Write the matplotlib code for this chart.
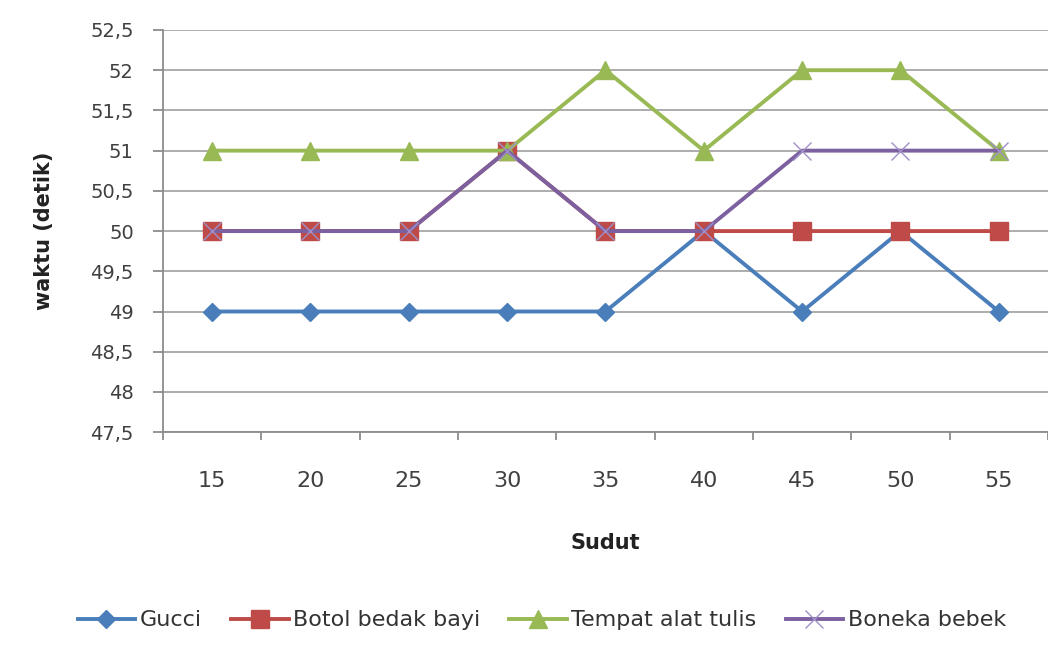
import matplotlib
matplotlib.use("Agg")
import matplotlib.pyplot as plt
from matplotlib.ticker import MultipleLocator, FixedLocator, FuncFormatter

plt.rcParams['font.family'] = ['DejaVu Sans']

sudut = ["15", "20", "25", "30", "35", "40", "45", "50", "55"]
gucci = [49, 49, 49, 49, 49, 50, 49, 50, 49]
botol = [50, 50, 50, 51, 50, 50, 50, 50, 50]
tempat = [51, 51, 51, 51, 52, 51, 52, 52, 51]
boneka = [50, 50, 50, 51, 50, 50, 51, 51, 51]

fig = plt.figure(figsize=(10.48, 6.45), dpi=100)
ax = fig.add_axes([0.1555, 0.330, 0.8445, 0.6235])

x = list(range(len(sudut)))
lw = 2.8
ax.plot(x, gucci, color='#4A7EBB', lw=lw, marker='D', ms=9,
        mec='#4A7EBB', label='Gucci', zorder=3)
ax.plot(x, botol, color='#BE4B48', lw=lw, marker='s', ms=13,
        mec='#BE4B48', label='Botol bedak bayi', zorder=4)
ax.plot(x, tempat, color='#98B954', lw=lw, marker='^', ms=13,
        mec='#98B954', label='Tempat alat tulis', zorder=5)
ax.plot(x, boneka, color='#7D60A0', lw=lw, marker='x', ms=13, mew=1.0,
        mec='#A090C8', label='Boneka bebek', zorder=6)

ax.set_xlim(-0.5, len(sudut) - 0.5)
ax.set_ylim(47.5, 52.5)
ax.yaxis.set_major_locator(MultipleLocator(0.5))
ax.yaxis.set_major_formatter(FuncFormatter(lambda v, p: (f"{v:g}").replace('.', ',')))
ax.set_xticks(x)
ax.set_xticklabels(sudut)
ax.xaxis.set_minor_locator(FixedLocator([i - 0.5 for i in range(len(sudut) + 1)]))

ax.grid(axis='y', color='#A6A6A6', lw=1.3, zorder=0)
ax.set_axisbelow(True)
for s in ['top', 'right']:
    ax.spines[s].set_visible(False)
for s in ['left', 'bottom']:
    ax.spines[s].set_color('#8C8C8C')
    ax.spines[s].set_linewidth(1.3)

ax.tick_params(axis='x', which='major', length=0, pad=28, labelsize=16, labelcolor='#404040')
ax.tick_params(axis='x', which='minor', length=6, width=1.3, color='#8C8C8C', direction='out')
ax.tick_params(axis='y', length=7, width=1.3, color='#8C8C8C', pad=14,
               labelsize=14, labelcolor='#404040')

ax.set_xlabel('Sudut', fontsize=15, fontweight='bold', labelpad=30, color='#222222')
ax.set_ylabel('waktu (detik)', fontsize=15, fontweight='bold', labelpad=26, color='#222222')

leg = fig.legend(loc='center', bbox_to_anchor=(0.517, 0.038), ncol=4, frameon=False,
                 fontsize=16, handlelength=2.6, columnspacing=1.3, handletextpad=0.2,
                 labelcolor='#333333')

fig.savefig('out.png', dpi=100, facecolor='white')
